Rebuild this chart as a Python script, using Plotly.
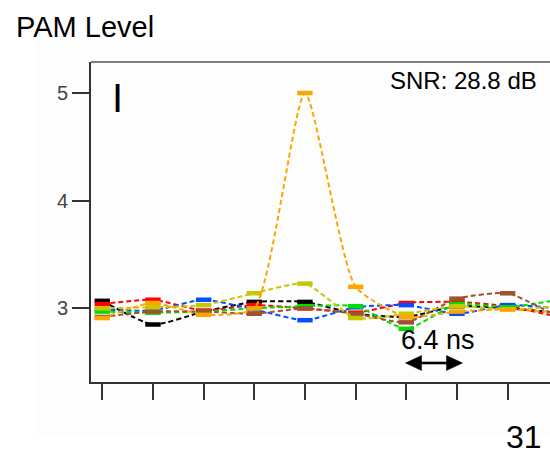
import plotly.graph_objects as go

# Symbol periods along the time axis (one tick per period)
symbol_index = list(range(10))

# Received PAM level per trace at each symbol period
black = [3.07, 2.85, 2.97, 3.06, 3.06, 2.95, 2.92, 3.02, 3.00, 2.96]
red = [3.04, 3.08, 2.98, 3.03, 3.00, 2.96, 3.05, 3.06, 3.02, 2.92]
blue = [2.99, 2.98, 3.08, 2.99, 2.89, 3.01, 3.03, 2.95, 3.03, 3.00]
green = [2.97, 2.96, 2.97, 3.00, 3.02, 3.02, 2.81, 3.04, 3.01, 3.08]
orange = [2.91, 3.05, 2.94, 3.00, 5.00, 3.20, 2.92, 2.97, 2.99, 2.96]
yellow = [3.00, 3.01, 3.03, 3.14, 3.23, 2.91, 2.95, 3.02, 2.99, 3.02]
brown = [2.92, 2.97, 2.97, 2.95, 3.00, 2.95, 2.87, 3.09, 3.14, 2.92]

series = [black, red, blue, green, brown, yellow, orange]
colors = ["#000000", "#FF0000", "#0050FF", "#00DD00", "#A0522D", "#C8C800", "#FFA500"]

y_ticks = [3, 4, 5]
y_tick_labels = ["3", "4", "5"]

W, H = 550, 456
L, R, T, B = 91, 0, 62, 74
PW, PH = W - L - R, H - T - B


def px(x):
    return (x - L) / PW


def py(y):
    return (H - B - y) / PH


fig = go.Figure()

for vals, col in zip(series, colors):
    fig.add_trace(go.Scatter(
        x=symbol_index, y=vals, mode="lines+markers",
        line=dict(color=col, width=2, dash="5px,3px", shape="spline", smoothing=0.55),
        marker=dict(symbol="line-ew", size=11, color=col,
                    line=dict(color=col, width=4.5)),
        cliponaxis=True, showlegend=False, hoverinfo="skip",
    ))

# faint slide panel behind the chart
fig.add_shape(type="rect", xref="paper", yref="paper",
              x0=px(36), x1=px(550), y0=py(437), y1=py(42),
              fillcolor="#FDFDFD", line=dict(width=0), layer="below")
# top frame line
fig.add_shape(type="line", xref="paper", yref="paper",
              x0=0, x1=1, y0=1, y1=1, line=dict(color="#555555", width=1.5))

# double-headed arrow marking one symbol period
ay_, x_l, x_r, head_len, head_half = 363, 405.5, 462.5, 16, 7.5
fig.add_shape(type="line", xref="paper", yref="paper",
              x0=px(x_l + head_len - 1), x1=px(x_r - head_len + 1), y0=py(ay_), y1=py(ay_),
              line=dict(color="#000000", width=2.6))
for tip, base in ((x_l, x_l + head_len), (x_r, x_r - head_len)):
    fig.add_shape(type="path", xref="paper", yref="paper",
                  path=(f"M {px(tip)} {py(ay_)} L {px(base)} {py(ay_ - head_half)} "
                        f"L {px(base)} {py(ay_ + head_half)} Z"),
                  fillcolor="#000000", line=dict(color="#000000", width=0.5))

txt = dict(family="Liberation Sans, Arial, sans-serif", color="#000000")
fig.add_annotation(text="PAM Level", xref="paper", yref="paper",
                   x=px(14), y=py(27), xanchor="left", yanchor="middle",
                   showarrow=False, font=dict(size=29, **txt))
fig.add_annotation(text="I", xref="paper", yref="paper",
                   x=px(117), y=py(98), xanchor="center", yanchor="middle",
                   showarrow=False, font=dict(size=40, **txt))
fig.add_annotation(text="SNR: 28.8 dB", xref="paper", yref="paper",
                   x=px(539), y=py(81), xanchor="right", yanchor="middle",
                   showarrow=False, font=dict(size=24, **txt))
fig.add_annotation(text="6.4 ns", xref="paper", yref="paper",
                   x=px(438), y=py(340), xanchor="center", yanchor="middle",
                   showarrow=False, font=dict(size=27, **txt))
fig.add_annotation(text="31", xref="paper", yref="paper",
                   x=px(543), y=py(436.5), xanchor="right", yanchor="middle",
                   showarrow=False, borderpad=0, font=dict(size=32, **txt))

fig.update_xaxes(
    range=[-0.223, 8.836], showgrid=False, zeroline=False,
    tickvals=symbol_index, showticklabels=False,
    ticks="outside", ticklen=16, tickwidth=2, tickcolor="#333333",
    showline=True, linecolor="#333333", linewidth=2,
)
fig.update_yaxes(
    range=[2.316, 5.288], showgrid=False, zeroline=False,
    tickvals=y_ticks, ticktext=y_tick_labels,
    ticks="outside", ticklen=17, tickwidth=2, tickcolor="#333333",
    showline=True, linecolor="#333333", linewidth=2,
    tickfont=dict(family="Liberation Sans Narrow, Arial Narrow, Liberation Sans, sans-serif",
                  size=20, color="#444444"),
)
fig.update_layout(
    width=W, height=H, autosize=False,
    margin=dict(l=L, r=R, t=T, b=B, pad=0),
    paper_bgcolor="#FFFFFF", plot_bgcolor="#FFFFFF",
    showlegend=False,
)

fig.write_html("out.html", config={"displayModeBar": False})
